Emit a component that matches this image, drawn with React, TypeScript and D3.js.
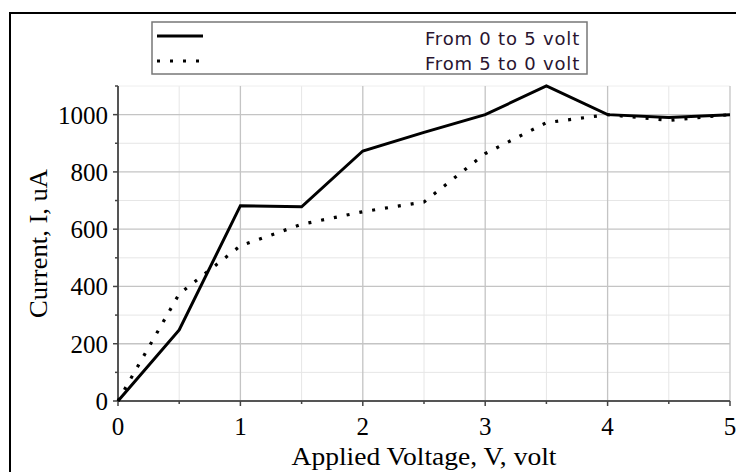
import React from "react";
import * as d3 from "d3";

const voltages = [0, 0.5, 1, 1.5, 2, 2.5, 3, 3.5, 4, 4.5, 5];
const currentUp = [0, 248, 682, 678, 873, 938, 1000, 1100, 1000, 990, 1000];
const currentDown = [0, 374, 542, 617, 661, 695, 864, 972, 1000, 980, 1000];
const seriesNames = ["From 0 to 5 volt", "From 5 to 0 volt"];
const xMajor = [0, 1, 2, 3, 4, 5];
const xMinor = [0.5, 1.5, 2.5, 3.5, 4.5];
const yMajor = [0, 200, 400, 600, 800, 1000];
const yMinor = [100, 300, 500, 700, 900];

export default function App() {
  const W = 736, H = 472;
  const left = 118, right = 730, top = 86, bottom = 401;
  const x = d3.scaleLinear().domain([0, 5]).range([left, right]);
  const y = d3.scaleLinear().domain([0, 1100]).range([bottom, top]);
  const line = d3.line<number>().x((_, i) => x(voltages[i])).y((d) => y(d));
  const serif = "'Liberation Serif', 'Times New Roman', serif";
  const sans = "'DejaVu Sans', sans-serif";
  return (
    <svg width={W} height={H} style={{ position: "absolute", left: 0, top: 0, background: "#fff" }}>
      <rect x={0} y={0} width={W} height={H} fill="#fff" />
      {/* frame */}
      <line x1={10} y1={13} x2={W} y2={13} stroke="#000" strokeWidth={2} />
      <line x1={10} y1={12} x2={10} y2={H} stroke="#000" strokeWidth={2} />
      {/* minor grid */}
      {xMinor.map((v) => (
        <line key={"xm" + v} x1={x(v)} x2={x(v)} y1={top} y2={bottom} stroke="#e6e6e6" strokeWidth={1} />
      ))}
      {yMinor.map((v) => (
        <line key={"ym" + v} x1={left} x2={right} y1={y(v)} y2={y(v)} stroke="#e6e6e6" strokeWidth={1} />
      ))}
      <line x1={left} x2={right} y1={top} y2={top} stroke="#eeeeee" strokeWidth={1} />
      {/* major grid */}
      {xMajor.slice(1).map((v) => (
        <line key={"xg" + v} x1={x(v)} x2={x(v)} y1={top} y2={bottom} stroke="#c4c4c4" strokeWidth={1.3} />
      ))}
      {yMajor.slice(1).map((v) => (
        <line key={"yg" + v} x1={left} x2={right} y1={y(v)} y2={y(v)} stroke="#c4c4c4" strokeWidth={1.3} />
      ))}
      {/* axes */}
      <line x1={left} x2={left} y1={top} y2={bottom} stroke="#555" strokeWidth={2} />
      <line x1={left} x2={right} y1={bottom} y2={bottom} stroke="#555" strokeWidth={2} />
      {xMajor.map((v) => (
        <line key={"xt" + v} x1={x(v)} x2={x(v)} y1={bottom} y2={bottom + 5} stroke="#444" strokeWidth={1.5} />
      ))}
      {xMinor.map((v) => (
        <line key={"xmt" + v} x1={x(v)} x2={x(v)} y1={bottom} y2={bottom + 3} stroke="#444" strokeWidth={1.5} />
      ))}
      {yMajor.map((v) => (
        <line key={"yt" + v} x1={left - 5} x2={left} y1={y(v)} y2={y(v)} stroke="#444" strokeWidth={1.5} />
      ))}
      {yMinor.map((v) => (
        <line key={"ymt" + v} x1={left - 3} x2={left} y1={y(v)} y2={y(v)} stroke="#444" strokeWidth={1.5} />
      ))}
      <line x1={left - 3} x2={left} y1={top} y2={top} stroke="#444" strokeWidth={1.5} />
      {xMajor.map((v) => (
        <text key={"xl" + v} x={x(v)} y={435} textAnchor="middle" fontFamily={serif} fontSize={25} fill="#000">
          {v}
        </text>
      ))}
      {yMajor.map((v) => (
        <text key={"yl" + v} x={108} y={y(v) + 9} textAnchor="end" fontFamily={serif} fontSize={25} fill="#000">
          {v}
        </text>
      ))}
      <text x={424} y={465} textAnchor="middle" fontFamily={serif} fontSize={26} fill="#000" textLength={265} lengthAdjust="spacingAndGlyphs">
        Applied Voltage, V, volt
      </text>
      <text
        transform={`translate(47, ${(top + bottom) / 2}) rotate(-90)`}
        textAnchor="middle"
        fontFamily={serif}
        fontSize={26}
        fill="#000"
        textLength={149}
        lengthAdjust="spacingAndGlyphs"
      >
        Current, I, uA
      </text>
      {/* series */}
      <path d={line(currentDown) || ""} fill="none" stroke="#000" strokeWidth={3.2} strokeDasharray="3 10" />
      <path d={line(currentUp) || ""} fill="none" stroke="#000" strokeWidth={3} strokeLinejoin="miter" />
      {/* legend */}
      <rect x={152} y={22} width={435} height={52} fill="#fff" stroke="#777" strokeWidth={1.5} />
      <line x1={157} x2={203} y1={36} y2={36} stroke="#000" strokeWidth={3} />
      <line x1={157} x2={203} y1={61} y2={61} stroke="#000" strokeWidth={3.2} strokeDasharray="3 10" />
      {seriesNames.map((s, i) => (
        <text
          key={s}
          x={580}
          y={45 + i * 25}
          textAnchor="end"
          fontFamily={sans}
          fontSize={18}
          letterSpacing={0.8}
          fill="#2a1530"
          textLength={155}
          lengthAdjust="spacingAndGlyphs"
        >
          {s}
        </text>
      ))}
    </svg>
  );
}
